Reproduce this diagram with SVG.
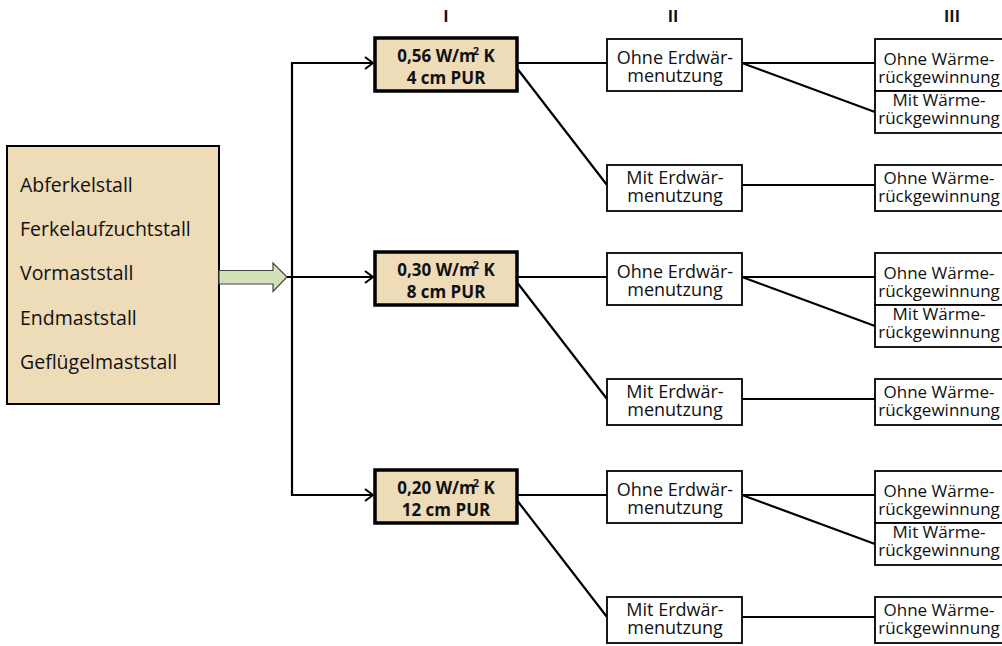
<svg xmlns="http://www.w3.org/2000/svg" width="1002" height="646" viewBox="0 0 1002 646">
<style>
.t{font-family:"Open Sans","Noto Sans","DejaVu Sans",sans-serif;fill:#111}
.lbl{font-size:19.5px}
.hd{font-size:16px;font-weight:bold;text-anchor:middle}
.b1{font-size:17px;font-weight:bold;text-anchor:middle}
.n{font-size:18px;text-anchor:middle}
.n3{font-size:17px;text-anchor:middle}
.tan{fill:#EEDBB8;stroke:#000}
.box{fill:#fff;stroke:#000;stroke-width:1.8}
.c{stroke:#000;stroke-width:2.2;fill:none}
</style>
<defs>
<marker id="ah" markerWidth="12" markerHeight="14" refX="10" refY="7" orient="auto" markerUnits="userSpaceOnUse">
<path d="M2,1 L10,7 L2,13" fill="none" stroke="#000" stroke-width="2"/>
</marker>
</defs>
<g id="headers">
<text class="t hd" x="446" y="22">I</text>
<text class="t hd" x="673" y="22">II</text>
<text class="t hd" x="952" y="22">III</text>
</g>
<g id="stall">
<rect class="tan" x="7" y="146" width="212" height="258" stroke-width="2"/>
<text class="t lbl" x="20" y="192">Abferkelstall</text>
<text class="t lbl" x="20" y="236">Ferkelaufzuchtstall</text>
<text class="t lbl" x="20" y="280">Vormaststall</text>
<text class="t lbl" x="20" y="325">Endmaststall</text>
<text class="t lbl" x="20" y="369">Geflügelmaststall</text>
</g>
<g id="bigarrow">
<path d="M219,270.5 L273,270.5 L273,263 L287,277 L273,291.5 L273,284 L219,284 Z" fill="#D3E2B6" stroke="#444" stroke-width="1.2"/>
</g>
<g id="connectors">
<line class="c" x1="292" y1="62" x2="292" y2="496"/>
<line class="c" x1="287" y1="277" x2="373" y2="277" marker-end="url(#ah)"/>
<line class="c" x1="291" y1="63" x2="373" y2="63" marker-end="url(#ah)"/>
<line class="c" x1="291" y1="495" x2="373" y2="495" marker-end="url(#ah)"/>
<g id="g1c">
<line class="c" x1="517" y1="63" x2="607" y2="63"/>
<line class="c" x1="516" y1="67" x2="607" y2="185"/>
<line class="c" x1="742" y1="63" x2="875" y2="63"/>
<line class="c" x1="742" y1="63" x2="875" y2="112"/>
<line class="c" x1="742" y1="185" x2="875" y2="185"/>
</g>
<use href="#g1c" y="214"/>
<use href="#g1c" y="432"/>
</g>
<g id="g1">
<g id="n1">
<rect class="tan" x="375" y="38" width="142" height="53" stroke-width="3.5"/>
<text class="t b1" x="446" y="62">0,56 W/m<tspan font-size="11" dx="-3" dy="-7">2</tspan><tspan dy="7"> K</tspan></text>
<text class="t b1" x="446" y="84">4 cm PUR</text>
</g>
<g id="n1a">
<rect class="box" x="607" y="39" width="135" height="52"/>
<text class="t n" x="675" y="64">Ohne Erdwär-</text>
<text class="t n" x="675" y="82">menutzung</text>
</g>
<g id="n1b">
<rect class="box" x="607" y="165" width="135" height="46"/>
<text class="t n" x="675" y="184">Mit Erdwär-</text>
<text class="t n" x="675" y="202">menutzung</text>
</g>
<g id="n1a1">
<rect class="box" x="875" y="39" width="135" height="52"/>
<text class="t n3" x="939" y="65">Ohne Wärme-</text>
<text class="t n3" x="939" y="83">rückgewinnung</text>
</g>
<g id="n1a2">
<rect class="box" x="875" y="91" width="135" height="42"/>
<text class="t n3" x="939" y="106">Mit Wärme-</text>
<text class="t n3" x="939" y="124">rückgewinnung</text>
</g>
<g id="n1b1">
<rect class="box" x="875" y="165" width="135" height="46"/>
<text class="t n3" x="939" y="184">Ohne Wärme-</text>
<text class="t n3" x="939" y="202">rückgewinnung</text>
</g>
</g>
<g id="g2" transform="translate(0,214)">
<g id="n2">
<rect class="tan" x="375" y="38" width="142" height="53" stroke-width="3.5"/>
<text class="t b1" x="446" y="62">0,30 W/m<tspan font-size="11" dx="-3" dy="-7">2</tspan><tspan dy="7"> K</tspan></text>
<text class="t b1" x="446" y="84">8 cm PUR</text>
</g>
<g id="n2a">
<rect class="box" x="607" y="39" width="135" height="52"/>
<text class="t n" x="675" y="64">Ohne Erdwär-</text>
<text class="t n" x="675" y="82">menutzung</text>
</g>
<g id="n2b">
<rect class="box" x="607" y="165" width="135" height="46"/>
<text class="t n" x="675" y="184">Mit Erdwär-</text>
<text class="t n" x="675" y="202">menutzung</text>
</g>
<g id="n2a1">
<rect class="box" x="875" y="39" width="135" height="52"/>
<text class="t n3" x="939" y="65">Ohne Wärme-</text>
<text class="t n3" x="939" y="83">rückgewinnung</text>
</g>
<g id="n2a2">
<rect class="box" x="875" y="91" width="135" height="42"/>
<text class="t n3" x="939" y="106">Mit Wärme-</text>
<text class="t n3" x="939" y="124">rückgewinnung</text>
</g>
<g id="n2b1">
<rect class="box" x="875" y="165" width="135" height="46"/>
<text class="t n3" x="939" y="184">Ohne Wärme-</text>
<text class="t n3" x="939" y="202">rückgewinnung</text>
</g>
</g>
<g id="g3" transform="translate(0,432)">
<g id="n3">
<rect class="tan" x="375" y="38" width="142" height="53" stroke-width="3.5"/>
<text class="t b1" x="446" y="62">0,20 W/m<tspan font-size="11" dx="-3" dy="-7">2</tspan><tspan dy="7"> K</tspan></text>
<text class="t b1" x="446" y="84">12 cm PUR</text>
</g>
<g id="n3a">
<rect class="box" x="607" y="39" width="135" height="52"/>
<text class="t n" x="675" y="64">Ohne Erdwär-</text>
<text class="t n" x="675" y="82">menutzung</text>
</g>
<g id="n3b">
<rect class="box" x="607" y="165" width="135" height="46"/>
<text class="t n" x="675" y="184">Mit Erdwär-</text>
<text class="t n" x="675" y="202">menutzung</text>
</g>
<g id="n3a1">
<rect class="box" x="875" y="39" width="135" height="52"/>
<text class="t n3" x="939" y="65">Ohne Wärme-</text>
<text class="t n3" x="939" y="83">rückgewinnung</text>
</g>
<g id="n3a2">
<rect class="box" x="875" y="91" width="135" height="42"/>
<text class="t n3" x="939" y="106">Mit Wärme-</text>
<text class="t n3" x="939" y="124">rückgewinnung</text>
</g>
<g id="n3b1">
<rect class="box" x="875" y="165" width="135" height="46"/>
<text class="t n3" x="939" y="184">Ohne Wärme-</text>
<text class="t n3" x="939" y="202">rückgewinnung</text>
</g>
</g>
</svg>
